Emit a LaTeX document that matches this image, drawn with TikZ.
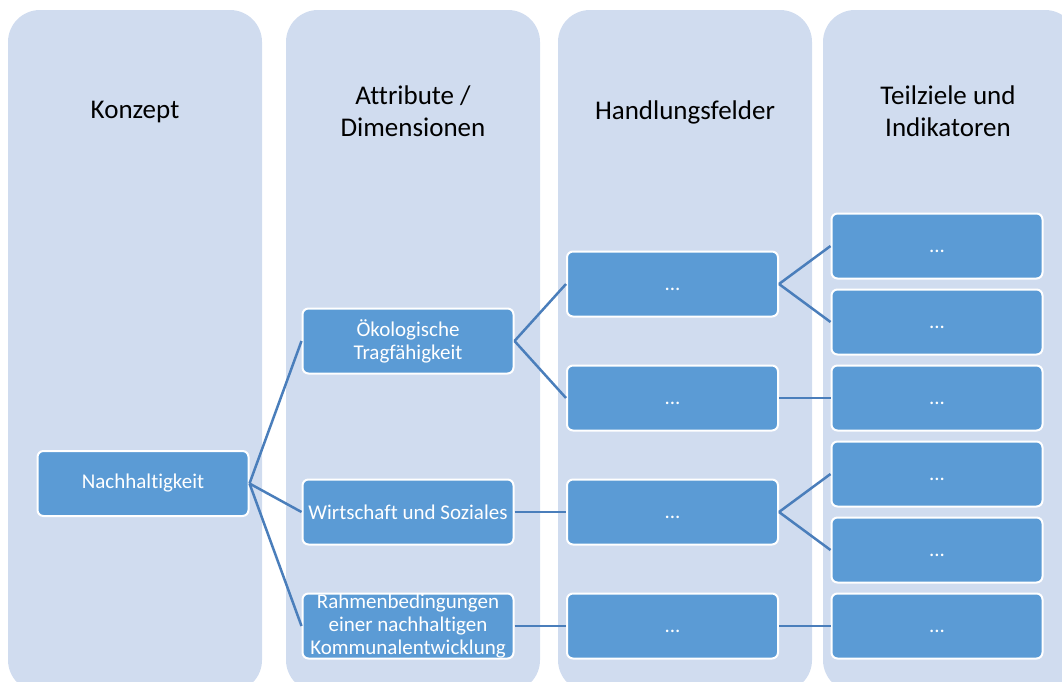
\documentclass[tikz,border=0pt]{standalone}
\usepackage{fontspec}
\setmainfont{Carlito}[Ligatures=NoCommon]

\definecolor{colbg}{RGB}{208,220,239}
\definecolor{boxblue}{RGB}{91,155,213}
\definecolor{linkblue}{RGB}{74,126,187}

\newcommand{\dotstrut}{\rule[-4pt]{0pt}{21pt}}

\begin{document}
\begin{tikzpicture}[x=1pt,y=-1pt,
 column/.style={fill=colbg, rounded corners=32pt},
 head/.style={align=center, font=\fontsize{27}{32}\selectfont},
 box/.style={draw=white, line width=2pt, fill=boxblue, rounded corners=6pt,
  text=white, minimum width=211pt, minimum height=65pt, inner sep=0pt,
  align=center, font=\fontsize{21}{23}\selectfont},
 link/.style={draw=linkblue, line width=2.5pt}]
%\draw[help lines] (0,0) grid[step=50] (1062,681);

 \clip (0,0) rectangle (1062,681);

 % columns
 \fill[column] (8,10) rectangle (262,692);
 \fill[column] (286,10) rectangle (540,692);
 \fill[column] (558,10) rectangle (812,692);
 \fill[column] (823,10) rectangle (1077,692);

 \node[head] (konzept) at (135,112) {Konzept};
 \node[head] (attribute) at (413,111) {Attribute /\\Dimensionen};
 \node[head] (handlung) at (685,112) {Handlungsfelder};
 \node[head] (teilziele) at (948,111) {Teilziele und\\Indikatoren};

 % Konzept
 \node[box] (nach) at (143,483.5) {Nachhaltigkeit};

 % Attribute / Dimensionen
 \node[box] (oeko) at (408,341) {Ökologische\\Tragfähigkeit};
 \node[box] (wirt) at (408,512) {Wirtschaft und Soziales};
 \node[box] (rahm) at (408,626) {Rahmenbedingungen\\einer nachhaltigen\\Kommunalentwicklung};

 % Handlungsfelder
 \node[box] (hf1) at (672.5,284) {\dotstrut...};
 \node[box] (hf2) at (672.5,398) {\dotstrut...};
 \node[box] (hf3) at (672.5,512) {\dotstrut...};
 \node[box] (hf4) at (672.5,626) {\dotstrut...};

 % Teilziele und Indikatoren
 \node[box] (tz1) at (937,246) {\dotstrut...};
 \node[box] (tz2) at (937,322) {\dotstrut...};
 \node[box] (tz3) at (937,398) {\dotstrut...};
 \node[box] (tz4) at (937,474) {\dotstrut...};
 \node[box] (tz5) at (937,550) {\dotstrut...};
 \node[box] (tz6) at (937,626) {\dotstrut...};

 \draw[link] (nach.east) -- (oeko.west);
 \draw[link] (nach.east) -- (wirt.west);
 \draw[link] (nach.east) -- (rahm.west);

 \draw[link] (oeko.east) -- (hf1.west);
 \draw[link] (oeko.east) -- (hf2.west);
 \draw[link] (wirt.east) -- (hf3.west);
 \draw[link] (rahm.east) -- (hf4.west);

 \draw[link] (hf1.east) -- (tz1.west);
 \draw[link] (hf1.east) -- (tz2.west);
 \draw[link] (hf2.east) -- (tz3.west);
 \draw[link] (hf3.east) -- (tz4.west);
 \draw[link] (hf3.east) -- (tz5.west);
 \draw[link] (hf4.east) -- (tz6.west);

\end{tikzpicture}
\end{document}
